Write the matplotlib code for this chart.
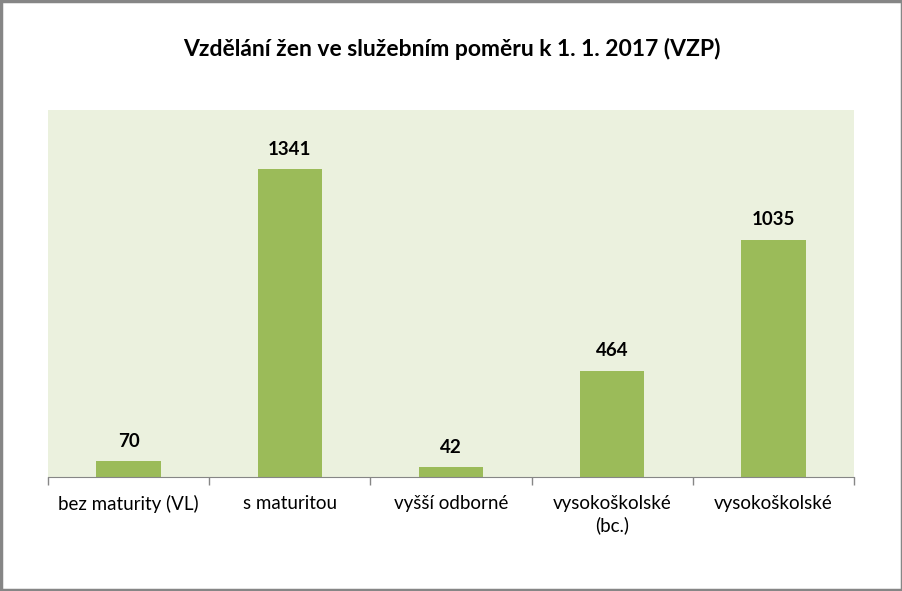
import numpy as np
import matplotlib.pyplot as plt
from matplotlib.patches import Rectangle

# data
categories = ["bez maturity (VL)", "s maturitou", "vyšší odborné",
              "vysokoškolské\n(bc.)", "vysokoškolské"]
values = [70, 1341, 42, 464, 1035]
title = "Vzdělání žen ve služebním poměru k 1. 1. 2017 (VZP)"

plt.rcParams['font.family'] = ['Lato', 'DejaVu Sans']

fig = plt.figure(figsize=(9.03, 5.91), dpi=100)
ax = fig.add_axes([48 / 903, 1 - 477 / 591, 806 / 903, 367 / 591])

x = np.arange(len(categories))
ax.bar(x, values, width=0.4, color="#9BBB59", zorder=2)
for xi, v in zip(x, values):
    ax.annotate(str(v), (xi, v), xytext=(0, 8), textcoords="offset points",
                ha="center", va="bottom", fontsize=13.5, fontweight="bold")

ax.set_xlim(-0.5, len(categories) - 0.5)
ax.set_ylim(0, 1600)
ax.set_facecolor("#EBF1DE")
ax.set_yticks([])
ax.set_xticks(x)
ax.set_xticklabels(categories, fontsize=13.5)
for lbl in ax.get_xticklabels():
    lbl.set_multialignment("center")
    lbl.set_linespacing(1.3)
ax.tick_params(axis="x", which="major", length=0, pad=13)
ax.set_xticks(np.arange(-0.5, len(categories)), minor=True)
ax.tick_params(axis="x", which="minor", length=6, color="#868686", width=1)
for s in ["top", "left", "right"]:
    ax.spines[s].set_visible(False)
ax.spines["bottom"].set_color("#868686")

fig.text(0.5, 1 - 49 / 591, title, ha="center", va="center",
         fontsize=16.5, fontweight="bold")

# outer border
fig.patches.append(Rectangle((0.0015, 0.002), 0.997, 0.996, transform=fig.transFigure,
                             fill=False, edgecolor="#868686", linewidth=2.5))

fig.savefig("out.png", dpi=100)
